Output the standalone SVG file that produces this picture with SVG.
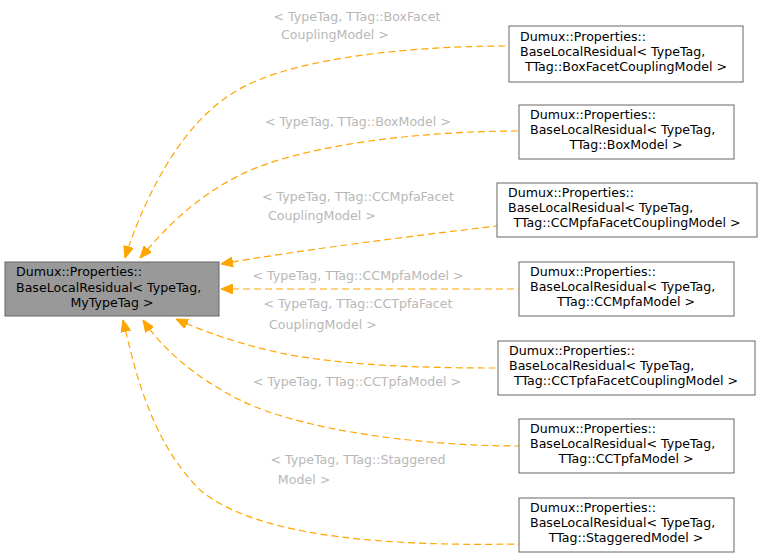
<svg xmlns="http://www.w3.org/2000/svg" width="763" height="558" viewBox="0 0 763 558">
<style>
.n{fill:#fff;stroke:#666;stroke-width:1}
.t{font-family:"DejaVu Sans",sans-serif;font-size:12.6px;fill:#000;text-anchor:middle}
.s{text-anchor:start}
.e{fill:none;stroke:#ffa500;stroke-dasharray:7,4;stroke-width:1.2;marker-start:url(#a)}
.l{font-family:"DejaVu Sans",sans-serif;font-size:12.6px;fill:#b8b8b8;text-anchor:middle}
</style>
<defs><marker id="a" markerWidth="12" markerHeight="10" refX="0" refY="5" orient="auto" markerUnits="userSpaceOnUse"><path d="M12,0 L0,5 L12,10 z" fill="#ffa500" stroke="#ffa500"/></marker></defs>
<rect width="763" height="558" fill="#fff"/>
<g id="edges">
<path class="e" d="M125,258 C140,210 175,130 230,95 C280,60 400,46 509,46"/>
<path class="e" d="M140,258 C160,235 190,200 240,175 C300,145 420,131 519,131"/>
<path class="e" d="M221,264 C300,250 420,235 497,226"/>
<path class="e" d="M221,289 L519,289"/>
<path class="e" d="M176,319 C200,330 240,345 290,355 C360,367 440,368 498,368"/>
<path class="e" d="M143,320 C160,345 190,375 240,400 C300,430 420,446 519,446"/>
<path class="e" d="M123,320 C135,370 150,440 200,490 C260,540 400,546 519,544"/>
<text class="l" x="357" y="21">&lt; TypeTag, TTag::BoxFacet</text><text class="l" x="335" y="39">CouplingModel &gt;</text>
<text class="l" x="358" y="126">&lt; TypeTag, TTag::BoxModel &gt;</text>
<text class="l" x="358" y="201">&lt; TypeTag, TTag::CCMpfaFacet</text><text class="l" x="322" y="220">CouplingModel &gt;</text>
<text class="l" x="358" y="280">&lt; TypeTag, TTag::CCMpfaModel &gt;</text>
<text class="l" x="358" y="308">&lt; TypeTag, TTag::CCTpfaFacet</text><text class="l" x="323" y="329">CouplingModel &gt;</text>
<text class="l" x="357" y="386">&lt; TypeTag, TTag::CCTpfaModel &gt;</text>
<text class="l" x="358" y="464">&lt; TypeTag, TTag::Staggered</text><text class="l" x="304" y="484">Model &gt;</text>
</g>
<g id="main"><rect x="5" y="262" width="214" height="54" fill="#999" stroke="#666"/>
<text class="t s" x="16" y="276">Dumux::Properties::</text><text class="t s" x="16" y="292">BaseLocalResidual&lt; TypeTag,</text><text class="t" x="112" y="307">MyTypeTag &gt;</text></g>
<g id="n1"><rect class="n" x="509" y="26" width="234" height="56"/><text class="t s" x="520" y="41">Dumux::Properties::</text><text class="t s" x="520" y="56">BaseLocalResidual&lt; TypeTag,</text><text class="t" x="626" y="71">TTag::BoxFacetCouplingModel &gt;</text></g>
<g id="n2"><rect class="n" x="519" y="105" width="215" height="54"/><text class="t s" x="530" y="119">Dumux::Properties::</text><text class="t s" x="530" y="134">BaseLocalResidual&lt; TypeTag,</text><text class="t" x="626" y="149">TTag::BoxModel &gt;</text></g>
<g id="n3"><rect class="n" x="497" y="183" width="260" height="54"/><text class="t s" x="508" y="197">Dumux::Properties::</text><text class="t s" x="508" y="212">BaseLocalResidual&lt; TypeTag,</text><text class="t" x="627" y="227">TTag::CCMpfaFacetCouplingModel &gt;</text></g>
<g id="n4"><rect class="n" x="519" y="262" width="215" height="54"/><text class="t s" x="530" y="276">Dumux::Properties::</text><text class="t s" x="530" y="291">BaseLocalResidual&lt; TypeTag,</text><text class="t" x="626" y="306">TTag::CCMpfaModel &gt;</text></g>
<g id="n5"><rect class="n" x="498" y="341" width="257" height="54"/><text class="t s" x="509" y="355">Dumux::Properties::</text><text class="t s" x="509" y="370">BaseLocalResidual&lt; TypeTag,</text><text class="t" x="626" y="385">TTag::CCTpfaFacetCouplingModel &gt;</text></g>
<g id="n6"><rect class="n" x="519" y="419" width="215" height="54"/><text class="t s" x="530" y="433">Dumux::Properties::</text><text class="t s" x="530" y="448">BaseLocalResidual&lt; TypeTag,</text><text class="t" x="626" y="463">TTag::CCTpfaModel &gt;</text></g>
<g id="n7"><rect class="n" x="519" y="498" width="215" height="54"/><text class="t s" x="530" y="512">Dumux::Properties::</text><text class="t s" x="530" y="527">BaseLocalResidual&lt; TypeTag,</text><text class="t" x="626" y="542">TTag::StaggeredModel &gt;</text></g>
</svg>
